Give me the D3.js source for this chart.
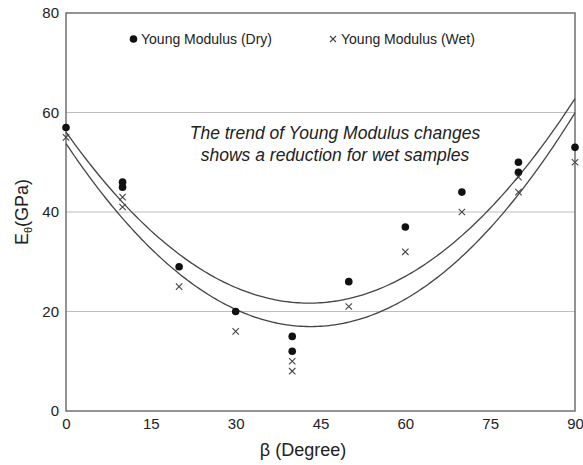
<!DOCTYPE html>
<html>
<head>
<meta charset="utf-8">
<script src="https://cdn.jsdelivr.net/npm/d3@7"></script>
<style>
  html, body { margin: 0; padding: 0; background: #fff; }
  svg { display: block; font-family: "Liberation Sans", Arial, sans-serif; }
</style>
</head>
<body>
<svg id="chart" width="583" height="465"></svg>
<script>
// ---- data ----
const betaDry = [0, 10, 10, 20, 30, 40, 40, 50, 60, 70, 80, 80, 90];
const eDry    = [57, 46, 45, 29, 20, 15, 12, 26, 37, 44, 50, 48, 53];
const betaWet = [0, 10, 10, 20, 30, 40, 40, 50, 60, 70, 80, 80, 90];
const eWet    = [55, 43, 41, 25, 16, 10, 8, 21, 32, 40, 47, 44, 50];
const xTicks  = [0, 15, 30, 45, 60, 75, 90];
const yTicks  = [0, 20, 40, 60, 80];
const seriesNames = ["Young Modulus (Dry)", "Young Modulus (Wet)"];
const noteLines = ["The trend of Young Modulus changes", "shows a reduction for wet samples"];

// ---- layout ----
const svg = d3.select("#chart");
const L = 66, R = 575, T = 13, B = 411;
const x = d3.scaleLinear().domain([0, 90]).range([L, R]);
const y = d3.scaleLinear().domain([0, 80]).range([B, T]);

// least-squares quadratic trend from the data
function quadFit(xs, ys) {
  let S = Array(5).fill(0), Sy = [0, 0, 0];
  xs.forEach((xv, i) => {
    for (let k = 0; k < 5; k++) S[k] += Math.pow(xv, k);
    for (let k = 0; k < 3; k++) Sy[k] += Math.pow(xv, k) * ys[i];
  });
  const M = [[S[0], S[1], S[2], Sy[0]], [S[1], S[2], S[3], Sy[1]], [S[2], S[3], S[4], Sy[2]]];
  for (let i = 0; i < 3; i++) {
    for (let j = i + 1; j < 3; j++) {
      const f = M[j][i] / M[i][i];
      for (let k = i; k < 4; k++) M[j][k] -= f * M[i][k];
    }
  }
  const c = [0, 0, 0];
  for (let i = 2; i >= 0; i--) {
    let s = M[i][3];
    for (let k = i + 1; k < 3; k++) s -= M[i][k] * c[k];
    c[i] = s / M[i][i];
  }
  return c;
}

// gridlines
svg.append("g").selectAll("line").data(yTicks.filter(v => v > 0 && v < 80)).join("line")
  .attr("x1", L).attr("x2", R).attr("y1", d => y(d)).attr("y2", d => y(d))
  .attr("stroke", "#bdbdbd").attr("stroke-width", 1.2);

// frame
svg.append("rect").attr("x", L).attr("y", T).attr("width", R - L).attr("height", B - T)
  .attr("fill", "none").attr("stroke", "#666").attr("stroke-width", 1.4);

// axes (labels only)
const yAxis = d3.axisLeft(y).tickValues(yTicks).tickSize(0).tickPadding(7).tickFormat(d3.format("d"));
const gy = svg.append("g").attr("transform", `translate(${L},0)`).call(yAxis);
gy.select(".domain").remove();
gy.selectAll("text").attr("font-size", 15).attr("fill", "#222").attr("font-family", "Liberation Sans, Arial, sans-serif");

const xAxis = d3.axisBottom(x).tickValues(xTicks).tickSize(0).tickPadding(7).tickFormat(d3.format("d"));
const gx = svg.append("g").attr("transform", `translate(0,${B})`).call(xAxis);
gx.select(".domain").remove();
gx.selectAll("text").attr("font-size", 15).attr("fill", "#222").attr("font-family", "Liberation Sans, Arial, sans-serif");

// trend curves
const line = d3.line().x(d => x(d[0])).y(d => y(d[1])).curve(d3.curveLinear);
[[betaDry, eDry], [betaWet, eWet]].forEach(([xs, ys]) => {
  const c = quadFit(xs, ys);
  const pts = d3.range(0, 90.01, 0.5).map(b => [b, c[0] + c[1] * b + c[2] * b * b]);
  svg.append("path").attr("d", line(pts)).attr("fill", "none")
    .attr("stroke", "#444").attr("stroke-width", 1.3);
});

// dry points
svg.append("g").selectAll("circle").data(betaDry.map((b, i) => [b, eDry[i]])).join("circle")
  .attr("cx", d => x(d[0])).attr("cy", d => y(d[1])).attr("r", 3.8).attr("fill", "#111");

// wet points (crosses)
const cs = 3.2;
svg.append("g").selectAll("path").data(betaWet.map((b, i) => [b, eWet[i]])).join("path")
  .attr("d", d => {
    const cx = x(d[0]), cy = y(d[1]);
    return `M${cx - cs},${cy - cs}L${cx + cs},${cy + cs}M${cx - cs},${cy + cs}L${cx + cs},${cy - cs}`;
  })
  .attr("stroke", "#444").attr("stroke-width", 1.1).attr("fill", "none");

// legend
svg.append("circle").attr("cx", 133.5).attr("cy", 39).attr("r", 3.8).attr("fill", "#111");
svg.append("text").attr("x", 141).attr("y", 44).attr("font-size", 14).attr("fill", "#222").text(seriesNames[0]);
svg.append("path").attr("d", `M${333 - 3},${39 - 3}L${333 + 3},${39 + 3}M${333 - 3},${39 + 3}L${333 + 3},${39 - 3}`)
  .attr("stroke", "#444").attr("stroke-width", 1.1);
svg.append("text").attr("x", 341).attr("y", 44).attr("font-size", 14).attr("fill", "#222").text(seriesNames[1]);

// annotation
svg.append("g").selectAll("text").data(noteLines).join("text")
  .attr("x", 335).attr("y", (d, i) => 139 + i * 22)
  .attr("text-anchor", "middle").attr("font-size", 17.5).attr("font-style", "italic").attr("fill", "#222")
  .text(d => d);

// axis titles
svg.append("text").attr("x", 303).attr("y", 456).attr("text-anchor", "middle")
  .attr("font-size", 18).attr("fill", "#222").text("β (Degree)");

const yt = svg.append("text").attr("transform", "translate(28,212) rotate(-90)")
  .attr("text-anchor", "middle").attr("font-size", 18).attr("fill", "#222");
yt.append("tspan").text("E");
yt.append("tspan").attr("font-size", 11).attr("dy", 4).text("θ");
yt.append("tspan").attr("dy", -4).text("(GPa)");
</script>
</body>
</html>
